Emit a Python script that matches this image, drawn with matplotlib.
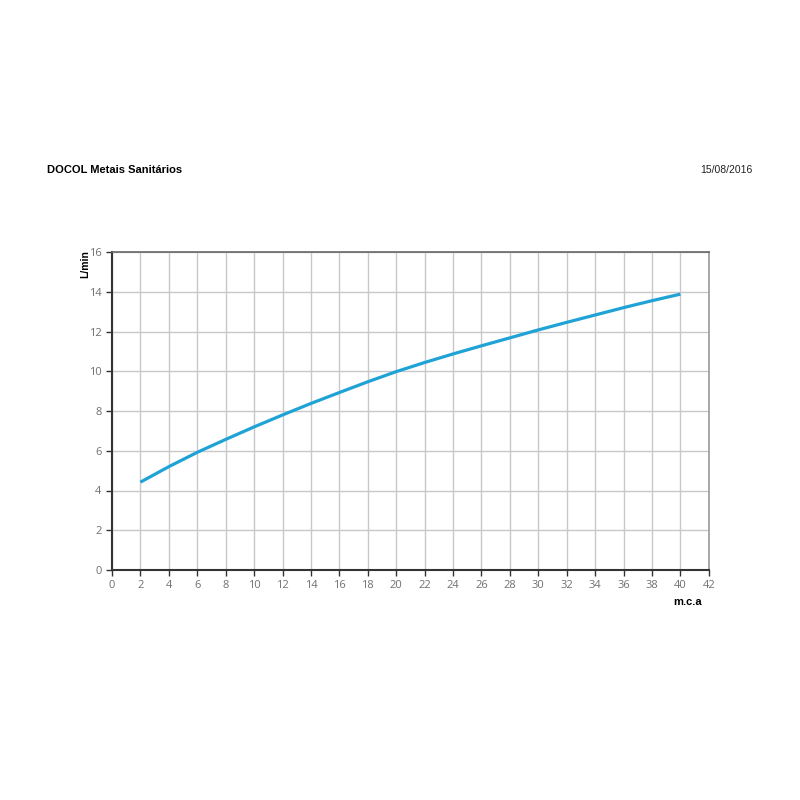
import matplotlib
matplotlib.use("Agg")
import matplotlib.pyplot as plt

# curva de vazão (leitura aproximada do gráfico)
pressao = [2, 4, 6, 8, 10, 12, 14, 16, 18, 20, 22, 24, 26, 28, 30, 32, 34, 36, 38, 40]
vazao = [4.42, 5.2, 5.92, 6.57, 7.2, 7.8, 8.38, 8.93, 9.47, 9.98, 10.44, 10.87,
         11.28, 11.68, 12.08, 12.46, 12.83, 13.2, 13.55, 13.88]

xticks = list(range(0, 43, 2))
yticks = list(range(0, 17, 2))

fig = plt.figure(figsize=(8, 8), dpi=100)
ax = fig.add_axes([0.14, 0.2875, 0.746, 0.3975])

ax.plot(pressao, vazao, color="#1fa3d6", lw=2.3, solid_capstyle="butt",
        solid_joinstyle="round", zorder=3)

ax.set_xlim(0, 42)
ax.set_ylim(0, 16)
ax.set_xticks(xticks)
ax.set_yticks(yticks)
ax.grid(True, color="#c8c8c8", lw=1)
ax.set_axisbelow(True)

for s in ["left", "bottom"]:
    ax.spines[s].set_color("#333333")
    ax.spines[s].set_linewidth(1.5)
ax.spines["top"].set_color("#666666")
ax.spines["top"].set_linewidth(1.2)
ax.spines["right"].set_color("#9a9a9a")
ax.spines["right"].set_linewidth(1.2)

ax.tick_params(axis="both", colors="#333333", labelcolor="#707070", labelsize=8,
               length=4, width=1)
for lbl in ax.get_xticklabels() + ax.get_yticklabels():
    lbl.set_family("Open Sans")

ax.text(-0.045, 1.006, "L/min", transform=ax.transAxes, rotation=90, ha="center",
        va="top", fontsize=7.5, fontweight="bold", family="Liberation Sans")
ax.text(0.965, -0.085, "m.c.a", transform=ax.transAxes, ha="center", va="top",
        fontsize=8, fontweight="bold", family="Liberation Sans")

fig.text(0.059, 0.788, "DOCOL Metais Sanitários", fontsize=8, fontweight="bold",
         family="Liberation Sans", ha="left", va="center")
fig.text(0.94, 0.788, "15/08/2016", fontsize=7.5, family="Liberation Sans",
         ha="right", va="center", color="#222222")

fig.savefig("out.png", dpi=100)
